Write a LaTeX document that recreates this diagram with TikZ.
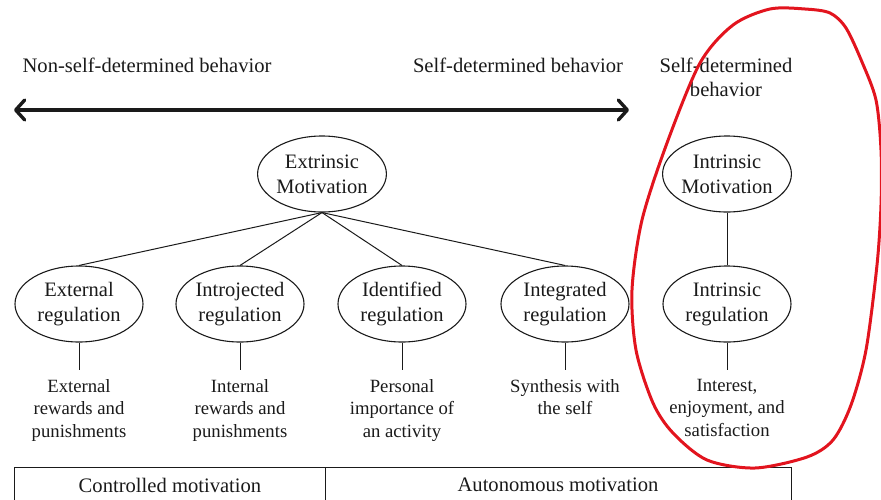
\documentclass[tikz,border=0pt]{standalone}
\usepackage{fontspec}
\setmainfont{Liberation Serif}
\usetikzlibrary{arrows.meta,shapes.geometric}
\definecolor{pen}{HTML}{E2141E}
\definecolor{ink}{HTML}{1A1A1A}
\begin{document}
\begin{tikzpicture}[x=1pt,y=-1pt,
  oval/.style={ellipse, draw=ink, line width=1.1pt, minimum width=128pt,
    minimum height=76pt, inner sep=0pt, align=center, text=ink,
    font=\fontsize{20.5}{25}\selectfont},
  desc/.style={align=center, anchor=north, inner sep=0pt, text=ink,
    font=\fontsize{18.7}{22.5}\selectfont},
  head/.style={align=center, text=ink, font=\fontsize{20.6}{24}\selectfont},
  link/.style={draw=ink, line width=1pt},
  boxline/.style={draw=ink, line width=0.9pt},
  ]
\useasboundingbox (0,0) rectangle (881,499);

% headings above the continuum
\node[head] (nsd) at (147,65) {Non-self-determined behavior};
\node[head] (sd)  at (518,65) {Self-determined behavior};
\node[head] (sdb) at (726,77) {Self-determined\\behavior};

% the continuum arrow
\coordinate (la) at (14,110);
\coordinate (ra) at (629,110);
\draw[ink, line width=3.4pt,
  {Straight Barb[round,length=9pt,width=20pt]}-{Straight Barb[round,length=9pt,width=20pt]}]
  (la) -- (ra);

% motivation types
\node[oval] (em) at (322,174) {Extrinsic\\Motivation};
\node[oval] (im) at (727,174) {Intrinsic\\Motivation};

% regulation styles
\node[oval] (er)  at (79,304)  {External\\regulation};
\node[oval] (ir)  at (240,304) {Introjected\\regulation};
\node[oval] (idr) at (402,304) {Identified\\regulation};
\node[oval] (gr)  at (565,304) {Integrated\\regulation};
\node[oval] (nr)  at (727,304) {Intrinsic\\regulation};

\foreach \r in {er,ir,idr,gr} \draw[link] (em.south) -- (\r.north);
\draw[link] (im.south) -- (nr.north);

% stubs down to the descriptions
\foreach \r/\x in {er/79,ir/240,idr/402,gr/565,nr/727} {
  \coordinate (\r-end) at (\x,370);
  \draw[link] (\r.south) -- (\r-end);
}

% descriptions
\node[desc] (erd)  at (79,379)  {External\\rewards and\\punishments};
\node[desc] (ird)  at (240,379) {Internal\\rewards and\\punishments};
\node[desc] (idrd) at (402,379) {Personal\\importance of\\an activity};
\node[desc] (grd)  at (565,379) {Synthesis with\\the self};
\node[desc] (nrd)  at (727,379) {Interest,\\enjoyment, and\\satisfaction};

% summary table at the bottom
\draw[boxline] (14,510) -- (14,467) -- (791,467) -- (791,510);
\draw[boxline] (325,467) -- (325,510);
\node[head] (ctrl) at (170,485) {Controlled motivation};
\node[head] (auto) at (558,485) {Autonomous motivation};

% freehand loop around the intrinsic column
\draw[pen, line width=3pt, line join=round]
  plot[smooth cycle, tension=0.5] coordinates {
    (770,9) (805,9) (830,13) (846,28) (862,62) (876,100) (881,150)
    (881,205) (877,265) (866,350) (851,405) (833,440) (807,457)
    (755,468) (707,460) (673,433) (653,403) (636,350) (632,290)
    (642,220) (667,143) (700,63) (733,25)};
\end{tikzpicture}
\end{document}
